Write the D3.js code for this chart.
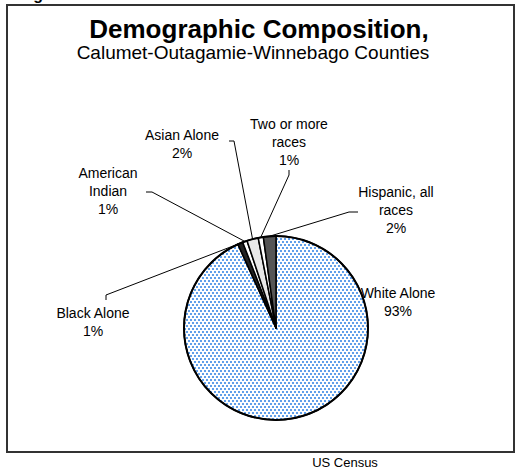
<!DOCTYPE html>
<html>
<head>
<meta charset="utf-8">
<script src="https://cdn.jsdelivr.net/npm/d3@7/dist/d3.min.js"></script>
<style>
  body { margin: 0; background: #fff; }
  text { font-family: "Liberation Sans", Arial, sans-serif; fill: #000; }
</style>
</head>
<body>
<svg id="chart"></svg>
<script>
  const width = 516,
        height = 476;

  // slice data, clockwise from 12 o'clock
  const categories = ["White Alone", "Black Alone", "American Indian", "Asian Alone", "Two or more races", "Hispanic, all races"];
  const shares = [93.2, 0.9, 0.8, 2.0, 0.9, 2.2];
  const pctLabels = ["93%", "1%", "1%", "2%", "1%", "2%"];
  const labelLines = [["White Alone"], ["Black Alone"], ["American", "Indian"], ["Asian Alone"], ["Two or more", "races"], ["Hispanic, all", "races"]];

  const fills = ["url(#dots)", "#222", "#ffffff", "#e8e8e8", "#ffffff", "#555555"];

  // label layout: centre x, first baseline, leader (tick start, elbow) or null
  const labelLayout = [
    {x: 398, y: 298, leader: null},
    {x: 93,  y: 318, leader: [[106, 300], [106, 295]]},
    {x: 108, y: 178, leader: [[146, 192], [152, 192]]},
    {x: 182, y: 140, leader: [[229, 141], [234, 141]]},
    {x: 289, y: 129, leader: [[289, 170], [289, 175]]},
    {x: 396, y: 197, leader: [[358, 212], [349, 212]]}
  ];

  const cx = 276, cy = 328, radius = 92, lineH = 18;

  let svg = d3.select("#chart")
              .attr("width", width)
              .attr("height", height);

  // dotted fill for the big slice
  let pat = svg.append("defs").append("pattern")
               .attr("id", "dots")
               .attr("patternUnits", "userSpaceOnUse")
               .attr("width", 4)
               .attr("height", 6);
  pat.append("rect").attr("width", 4).attr("height", 6).attr("fill", "#fff");
  pat.append("circle").attr("cx", 1).attr("cy", 1).attr("r", 1).attr("fill", "#2b7fe3");
  pat.append("circle").attr("cx", 3).attr("cy", 4).attr("r", 1).attr("fill", "#2b7fe3");

  // caption above the frame, mostly cut off
  svg.append("text")
     .attr("x", 19)
     .attr("y", -0.5)
     .attr("font-size", 16)
     .attr("font-weight", "bold")
     .text("Figure");

  // Border
  svg.append("rect")
     .attr("x", 7)
     .attr("y", 5)
     .attr("width", 507)
     .attr("height", 447)
     .style("fill", "none")
     .style("stroke", "#333")
     .style("stroke-width", 2);

  // Titles
  svg.append("text")
     .attr("x", 259)
     .attr("y", 38)
     .attr("text-anchor", "middle")
     .attr("font-size", 26)
     .attr("font-weight", "bold")
     .text("Demographic Composition,");

  svg.append("text")
     .attr("x", 253)
     .attr("y", 59)
     .attr("text-anchor", "middle")
     .attr("font-size", 19)
     .text("Calumet-Outagamie-Winnebago Counties");

  let pie = d3.pie()
              .sort(null)
              .value((d) => { return d; });

  let arc = d3.arc()
              .innerRadius(0)
              .outerRadius(radius);

  let arcs = pie(shares);

  let g = svg.append("g")
             .attr("transform", "translate(" + cx + "," + cy + ")");

  g.selectAll("path.slice")
   .data(arcs)
   .enter()
   .append("path")
   .attr("class", "slice")
   .attr("d", arc)
   .style("fill", (d, i) => { return fills[i]; })
   .style("stroke", "#000")
   .style("stroke-width", 1.5)
   .style("stroke-linejoin", "round");

  // outer rim
  g.append("circle")
   .attr("r", radius)
   .style("fill", "none")
   .style("stroke", "#000")
   .style("stroke-width", 2);

  // Leader lines
  arcs.forEach((d, i) => {
    let lay = labelLayout[i];
    if (!lay.leader) return;
    let mid = (d.startAngle + d.endAngle) / 2,
        ex = cx + radius * Math.sin(mid),
        ey = cy - radius * Math.cos(mid);
    let pts = lay.leader.concat([[ex, ey]]);
    svg.append("path")
       .attr("d", d3.line()(pts))
       .style("fill", "none")
       .style("stroke", "#000")
       .style("stroke-width", 1);
  });

  // Labels
  labelLines.forEach((lines, i) => {
    let lay = labelLayout[i];
    let t = svg.append("text")
               .attr("text-anchor", "middle")
               .attr("font-size", 14);
    lines.concat([pctLabels[i]]).forEach((s, k) => {
      t.append("tspan")
       .attr("x", lay.x)
       .attr("y", lay.y + k * lineH)
       .text(s);
    });
  });

  // Source
  svg.append("text")
     .attr("x", 345)
     .attr("y", 467)
     .attr("text-anchor", "middle")
     .attr("font-size", 13)
     .text("US Census");
</script>
</body>
</html>
